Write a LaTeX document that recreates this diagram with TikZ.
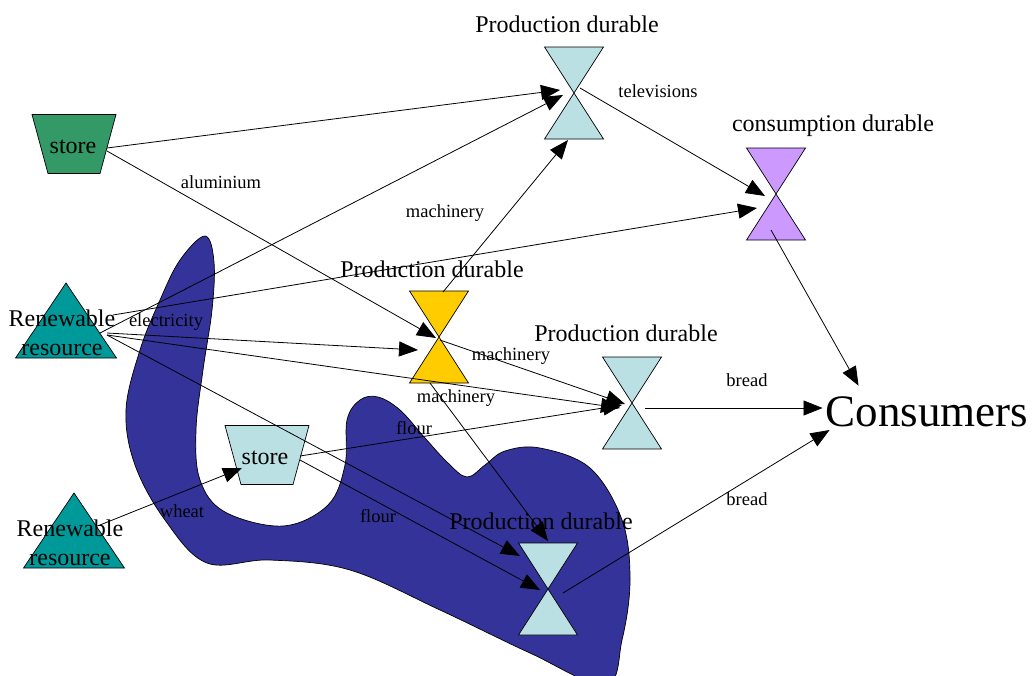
\documentclass[tikz,border=0pt]{standalone}
\usepackage{fontspec}
\setmainfont{Liberation Serif}
\usetikzlibrary{arrows.meta,calc}
\definecolor{storegreen}{HTML}{339966}
\definecolor{teal9}{HTML}{009999}
\definecolor{paleblue}{HTML}{BBE0E3}
\definecolor{goldy}{HTML}{FFCC00}
\definecolor{lilac}{HTML}{CC99FF}
\definecolor{blobblue}{HTML}{333399}
\begin{document}
\begin{tikzpicture}[x=1pt,y=-1pt,
  flow/.style={draw=black, line width=0.8pt, -{Triangle[length=19pt,width=15pt]}},
  shapeline/.style={draw=black, line width=0.7pt},
  big/.style={font=\fontsize{24}{29}\selectfont, align=center, inner sep=0pt},
  small/.style={font=\fontsize{18.5}{22}\selectfont, inner sep=0pt},
  pics/hglass/.style={code={\draw[shapeline, fill=#1] (-29.5,-46) -- (29.5,-46) -- (-29.5,46) -- (29.5,46) -- cycle;}},
  pics/trap/.style={code={\draw[shapeline, fill=#1] (-42,-29.5) -- (42,-29.5) -- (26,29.5) -- (-26,29.5) -- cycle;}},
  pics/tri/.style={code={\draw[shapeline, fill=#1] (0,-50) -- (50.5,25) -- (-50.5,25) -- cycle;}}
]
\useasboundingbox (0,0) rectangle (1032,675);
% blob
\begin{scope}
\clip (0,0) rectangle (1032,675);
\draw[shapeline, fill=blobblue] plot[smooth cycle, tension=0.6] coordinates {
 (205,236) (214,262) (212,310) (203,370) (196,430) (200,480) (225,512) (283,526)
 (328,505) (345,465) (347,420) (360,400) (378,397) (400,410) (425,438) (448,463)
 (467,477) (485,465) (505,451) (540,448) (590,468) (622,520) (630,580) (622,640)
 (605,685) (530,653) (440,610) (350,570) (270,560) (207,563) (165,520) (135,465)
 (126,410) (140,350) (160,300) (180,260)};
\end{scope}
% node centres
\coordinate (store1) at (74,144);
\coordinate (ren1) at (66,333);
\coordinate (ren2) at (74,543);
\coordinate (store2) at (267,455);
\coordinate (pd1) at (574,93);
\coordinate (pd2) at (439,337);
\coordinate (pd3) at (632,403);
\coordinate (pd4) at (548,589);
\coordinate (cons) at (776,194);
% shapes
\pic at (store1) {trap=storegreen};
\pic at (store2) {trap=paleblue};
\pic at (ren1) {tri=teal9};
\pic at (ren2) {tri=teal9};
\pic at (pd1) {hglass=paleblue};
\pic at (pd2) {hglass=goldy};
\pic at (pd3) {hglass=paleblue};
\pic at (pd4) {hglass=paleblue};
\pic at (cons) {hglass=lilac};
% texts of nodes
\node[big] (tstore1) at (73,147) {store};
\node[big] (tstore2) at (265,458) {store};
\node[big] (tren1) at (62,333) {Renewable\\resource};
\node[big] (tren2) at (70,543) {Renewable\\resource};
\node[big] (tpd1) at (567,24) {Production durable};
\node[big] (tpd2) at (432,269) {Production durable};
\node[big] (tpd3) at (626,333) {Production durable};
\node[big] (tpd4) at (541,521) {Production durable};
\node[big] (tcons) at (833,126) {consumption durable};
\node[font=\fontsize{45}{50}\selectfont, inner sep=0pt] (consumers) at (927,412) {Consumers};
% connectors
\draw[flow] ($(store1)+(33,4)$) -- ($(pd1)+(-14,-3)$);
\draw[flow] ($(store1)+(33,7)$) -- ($(pd2)+(-3,1)$);
\draw[flow] ($(ren1)+(34,0)$) -- ($(pd1)+(-11,2)$);
\draw[flow] ($(ren1)+(47,-18)$) -- ($(cons)+(-19,14)$);
\draw[flow] ($(ren1)+(41,0)$) -- ($(pd2)+(-21,13)$);
\draw[flow] ($(ren1)+(41,2)$) -- ($(pd3)+(-12,5)$);
\draw[flow] ($(ren1)+(41,2)$) -- ($(pd4)+(-28,-33)$);
\draw[flow] ($(store2)+(33,5)$) -- ($(pd4)+(-8,1)$);
\draw[flow] ($(store2)+(33,1)$) -- ($(pd3)+(-10,2)$);
\draw[flow] ($(pd2)+(4,-45)$) -- ($(pd1)+(-6,47)$);
\draw[flow] ($(pd2)+(1,3)$) -- ($(pd3)+(-7,1)$);
\draw[flow] ($(pd2)+(-9,46)$) -- ($(pd4)+(0,-48)$);
\draw[flow] ($(pd1)+(6,-5)$) -- ($(cons)+(-11,2)$);
\draw[flow] ($(cons)+(-5,36)$) -- ($(consumers.north west)+(33,-11)$);
\draw[flow] ($(pd3)+(13,5)$) -- ($(consumers.west)+(-3,-4)$);
\draw[flow] ($(pd4)+(15,4)$) -- ($(consumers.west)+(4,18)$);
\draw[flow] ($(ren2)+(26,-18)$) -- ($(store2)+(-25,13)$);
% edge labels
\node[small] (l1) at (221,182) {aluminium};
\node[small] (l2) at (445,213) {machinery};
\node[small] (l3) at (658,91) {televisions};
\node[small] (l4) at (166,322) {electricity};
\node[small] (l5) at (511,356) {machinery};
\node[small] (l6) at (456,398) {machinery};
\node[small] (l7) at (747,380) {bread};
\node[small] (l8) at (414,428) {flour};
\node[small] (l9) at (182,511) {wheat};
\node[small] (l10) at (378,516) {flour};
\node[small] (l11) at (747,499) {bread};
\end{tikzpicture}
\end{document}
